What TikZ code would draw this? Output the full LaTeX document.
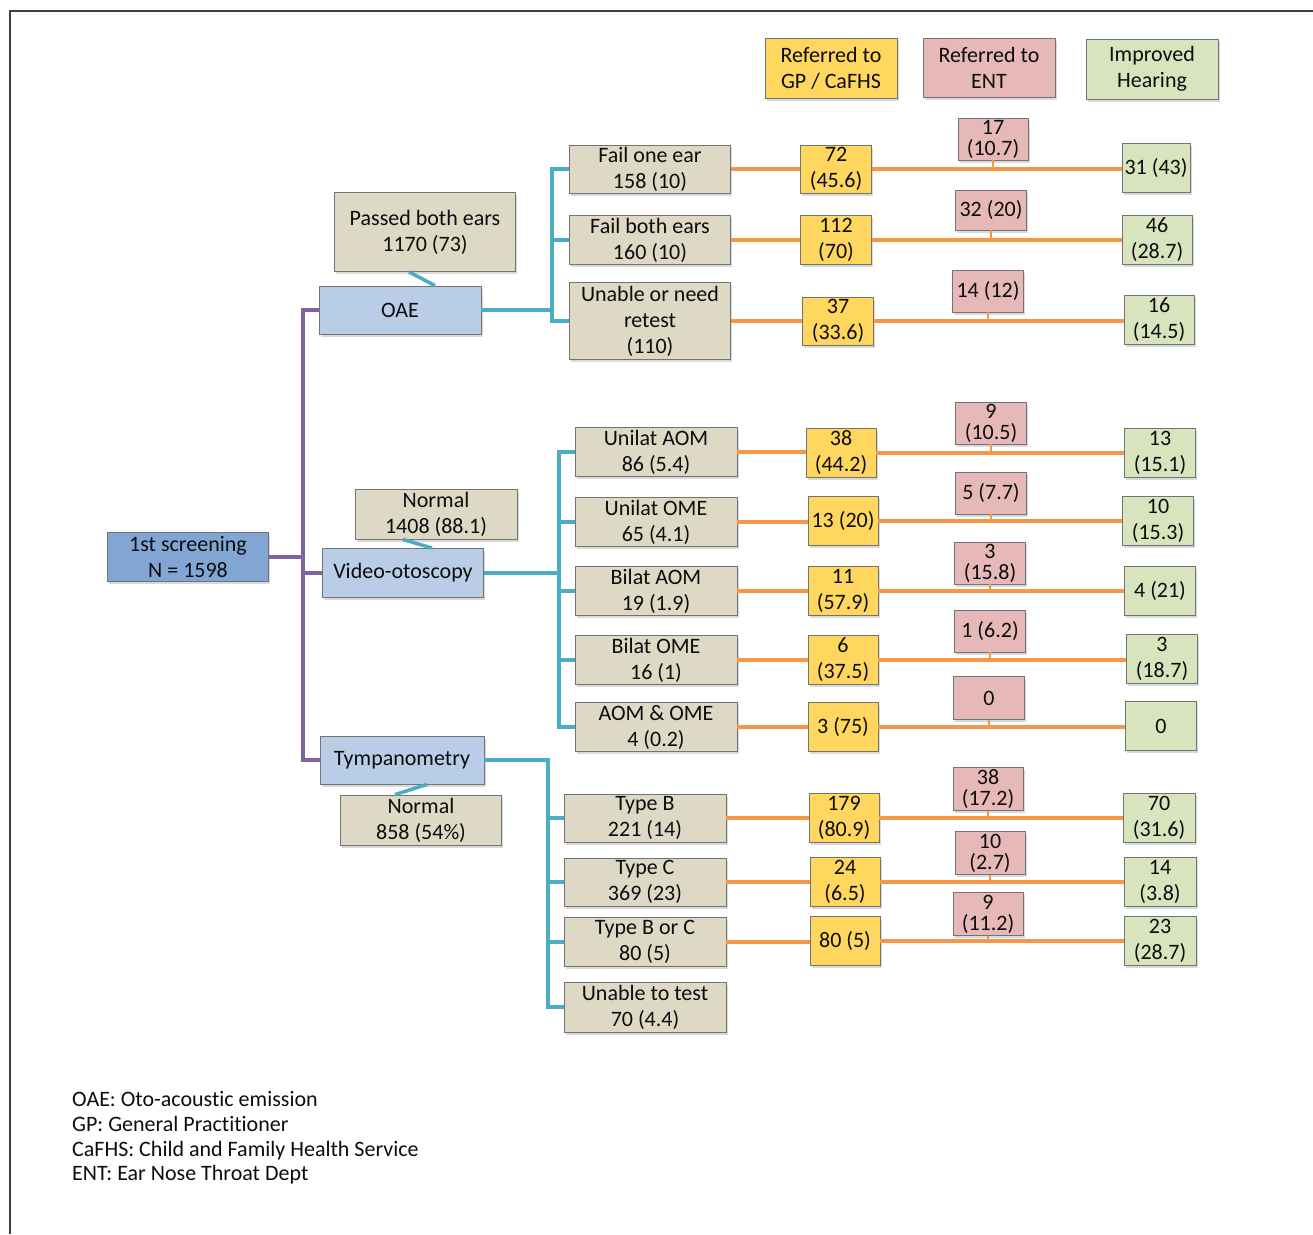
\documentclass[tikz,border=0pt]{standalone}
\usepackage{fontspec}
\setmainfont[Ligatures={NoCommon,NoContextual}]{Carlito}
\usetikzlibrary{shadows}
\definecolor{tanc}{HTML}{DDD9C4}
\definecolor{bluel}{HTML}{B9CDE6}
\definecolor{blued}{HTML}{82A6D4}
\definecolor{yel}{HTML}{FFD75E}
\definecolor{pnk}{HTML}{E6B9B8}
\definecolor{grn}{HTML}{D7E4BD}
\definecolor{tealc}{HTML}{4BACC6}
\definecolor{purp}{HTML}{8064A2}
\definecolor{orng}{HTML}{F79646}
\newcommand\bxfont{\fontsize{22}{26}\selectfont}
\newcommand\pkfont{\fontsize{22}{21}\selectfont}
\begin{document}
\begin{tikzpicture}[x=1pt,y=-1pt,
  bx/.style={draw=black!55, line width=0.9pt, align=center, inner xsep=1pt, inner ysep=0pt,
    text=black!95, font=\bxfont,
    drop shadow={shadow xshift=1.5pt, shadow yshift=-2.5pt, opacity=0.3}},
  sz/.style 2 args={minimum width=#1pt, minimum height=#2pt},
  tn/.style={bx, fill=tanc},
  bl/.style={bx, fill=bluel},
  rt/.style={bx, fill=blued},
  yw/.style={bx, fill=yel},
  pk/.style={bx, fill=pnk, font=\pkfont},
  gr/.style={bx, fill=grn},
  tl/.style={draw=tealc, line width=3.5pt},
  pl/.style={draw=purp, line width=3.5pt},
  ol/.style={draw=orng, line width=3.5pt}]
\useasboundingbox (0,0) rectangle (1313,1234);
% frame
\draw[line width=2pt, black!75] (10,1234) -- (10,11) -- (1313,11);

% headers
\node[yw, sz={132}{60}] (hg) at (831,68) {Referred to\\GP / CaFHS};
\node[pk, sz={132}{59}, font=\bxfont] (he) at (989,68) {Referred to\\ENT};
\node[gr, sz={132}{60}] (hh) at (1152,69) {Improved\\Hearing};

% root and level 2
\node[rt, sz={161}{49}] (root) at (188,557) {1st screening\\N = 1598};
\node[bl, sz={162}{48}] (oae) at (400,310) {OAE};
\node[bl, sz={161}{49}] (video) at (403,573) {Video-otoscopy};
\node[bl, sz={164}{48}] (tymp) at (402,760) {Tympanometry};
\node[tn, sz={181}{79}] (pbe) at (425,232) {Passed both ears\\1170 (73)};
\node[tn, sz={162}{50}] (nv) at (436,514) {Normal\\1408 (88.1)};
\node[tn, sz={161}{50}] (nt) at (421,820) {Normal\\858 (54\%)};

% OAE rows
\node[tn, sz={161}{48}] (a1) at (650,169) {Fail one ear\\158 (10)};
\node[tn, sz={161}{49}] (a2) at (650,240) {Fail both ears\\160 (10)};
\node[tn, sz={161}{77}] (a3) at (650,321) {Unable or need\\retest\\(110)};
\node[yw, sz={71}{48}] (ya1) at (836,169) {72\\(45.6)};
\node[yw, sz={71}{49}] (ya2) at (836,240) {112\\(70)};
\node[yw, sz={71}{48}] (ya3) at (838,321) {37\\(33.6)};
\node[pk, sz={70}{42}] (pa1) at (993,139) {17\\(10.7)};
\node[pk, sz={71}{40}] (pa2) at (991,210) {32 (20)};
\node[pk, sz={71}{42}] (pa3) at (988,291) {14 (12)};
\node[gr, sz={68}{49}] (ga1) at (1156,168) {31 (43)};
\node[gr, sz={70}{49}] (ga2) at (1157,240) {46\\(28.7)};
\node[gr, sz={70}{49}] (ga3) at (1159,320) {16\\(14.5)};

% Video rows
\node[tn, sz={162}{49}] (v1) at (656,452) {Unilat AOM\\86 (5.4)};
\node[tn, sz={162}{49}] (v2) at (656,522) {Unilat OME\\65 (4.1)};
\node[tn, sz={162}{49}] (v3) at (656,591) {Bilat AOM\\19 (1.9)};
\node[tn, sz={162}{49}] (v4) at (656,660) {Bilat OME\\16 (1)};
\node[tn, sz={162}{49}] (v5) at (656,727) {AOM \& OME\\4 (0.2)};
\node[yw, sz={70}{49}] (yv1) at (841,453) {38\\(44.2)};
\node[yw, sz={70}{49}] (yv2) at (843,521) {13 (20)};
\node[yw, sz={70}{49}] (yv3) at (843,591) {11\\(57.9)};
\node[yw, sz={70}{49}] (yv4) at (843,660) {6\\(37.5)};
\node[yw, sz={70}{49}] (yv5) at (843,727) {3 (75)};
\node[pk, sz={71}{42}] (pv1) at (991,423) {9\\(10.5)};
\node[pk, sz={71}{42}] (pv2) at (991,493) {5 (7.7)};
\node[pk, sz={71}{42}] (pv3) at (990,563) {3\\(15.8)};
\node[pk, sz={71}{42}] (pv4) at (990,631) {1 (6.2)};
\node[pk, sz={71}{43}] (pv5) at (989,698) {0};
\node[gr, sz={71}{49}] (gv1) at (1160,453) {13\\(15.1)};
\node[gr, sz={71}{49}] (gv2) at (1158,521) {10\\(15.3)};
\node[gr, sz={71}{49}] (gv3) at (1160,591) {4 (21)};
\node[gr, sz={71}{49}] (gv4) at (1162,659) {3\\(18.7)};
\node[gr, sz={71}{49}] (gv5) at (1161,726) {0};

% Tympanometry rows
\node[tn, sz={162}{48}] (t1) at (645,818) {Type B\\221 (14)};
\node[tn, sz={162}{48}] (t2) at (645,882) {Type C\\369 (23)};
\node[tn, sz={162}{49}] (t3) at (645,942) {Type B or C\\80 (5)};
\node[tn, sz={162}{50}] (t4) at (645,1007) {Unable to test\\70 (4.4)};
\node[yw, sz={70}{49}] (yt1) at (844,818) {179\\(80.9)};
\node[yw, sz={70}{49}] (yt2) at (845,882) {24\\(6.5)};
\node[yw, sz={70}{49}] (yt3) at (845,941) {80 (5)};
\node[pk, sz={70}{43}] (pt1) at (988,789) {38\\(17.2)};
\node[pk, sz={70}{43}] (pt2) at (990,853) {10\\(2.7)};
\node[pk, sz={70}{43}] (pt3) at (988,914) {9\\(11.2)};
\node[gr, sz={72}{49}] (gt1) at (1159,818) {70\\(31.6)};
\node[gr, sz={72}{49}] (gt2) at (1160,882) {14\\(3.8)};
\node[gr, sz={72}{49}] (gt3) at (1160,941) {23\\(28.7)};

% legend
\node[anchor=west, align=left, font=\fontsize{22}{24.6}\selectfont, text=black!95, inner sep=0pt] (legend) at (72,1138)
 {OAE: Oto-acoustic emission\\GP: General Practitioner\\CaFHS: Child and Family Health Service\\ENT: Ear Nose Throat Dept};

% junction coordinates
\coordinate (xp) at (303,0);
\coordinate (xa) at (552,0);
\coordinate (xv) at (559,0);
\coordinate (xt) at (548,0);

% purple trunk
\draw[pl] (root.east) -- (root.east -| xp);
\draw[pl] (oae.west) -- (oae.west -| xp) -- (tymp.west -| xp) -- (tymp.west);
\draw[pl] (video.west) -- (video.west -| xp);

% teal short links
\draw[tl] ([xshift=-16pt]pbe.south) -- ([xshift=35pt]oae.north);
\draw[tl] ([xshift=-33pt]nv.south) -- ([xshift=29pt]video.north);
\draw[tl] ([xshift=25pt]tymp.south) -- ([xshift=-26pt]nt.north);

% teal OAE
\draw[tl] (oae.east) -- (oae.east -| xa);
\draw[tl] (a1.west) -- (a1.west -| xa) -- (a3.west -| xa) -- (a3.west);
\draw[tl] (a2.west) -- (a2.west -| xa);
% teal video
\draw[tl] (video.east) -- (video.east -| xv);
\draw[tl] (v1.west) -- (v1.west -| xv) -- (v5.west -| xv) -- (v5.west);
\foreach \n in {v2,v3,v4} \draw[tl] (\n.west) -- (\n.west -| xv);
% teal tympanometry
\draw[tl] (tymp.east) -- (tymp.east -| xt) -- (t4.west -| xt) -- (t4.west);
\foreach \n in {t1,t2,t3} \draw[tl] (\n.west) -- (\n.west -| xt);

% orange rows
\foreach \s/\y/\p/\g in {a1/ya1/pa1/ga1, a2/ya2/pa2/ga2, a3/ya3/pa3/ga3,
  v1/yv1/pv1/gv1, v2/yv2/pv2/gv2, v3/yv3/pv3/gv3, v4/yv4/pv4/gv4, v5/yv5/pv5/gv5,
  t1/yt1/pt1/gt1, t2/yt2/pt2/gt2, t3/yt3/pt3/gt3}{
  \draw[ol] (\s.east) -- (\s.east -| \y.west);
  \draw[ol] (\y.east) -- (\y.east -| \g.west);
  \draw[ol, line width=2.5pt] (\p.south) -- (\p.south |- \y.east);
}
\end{tikzpicture}
\end{document}
